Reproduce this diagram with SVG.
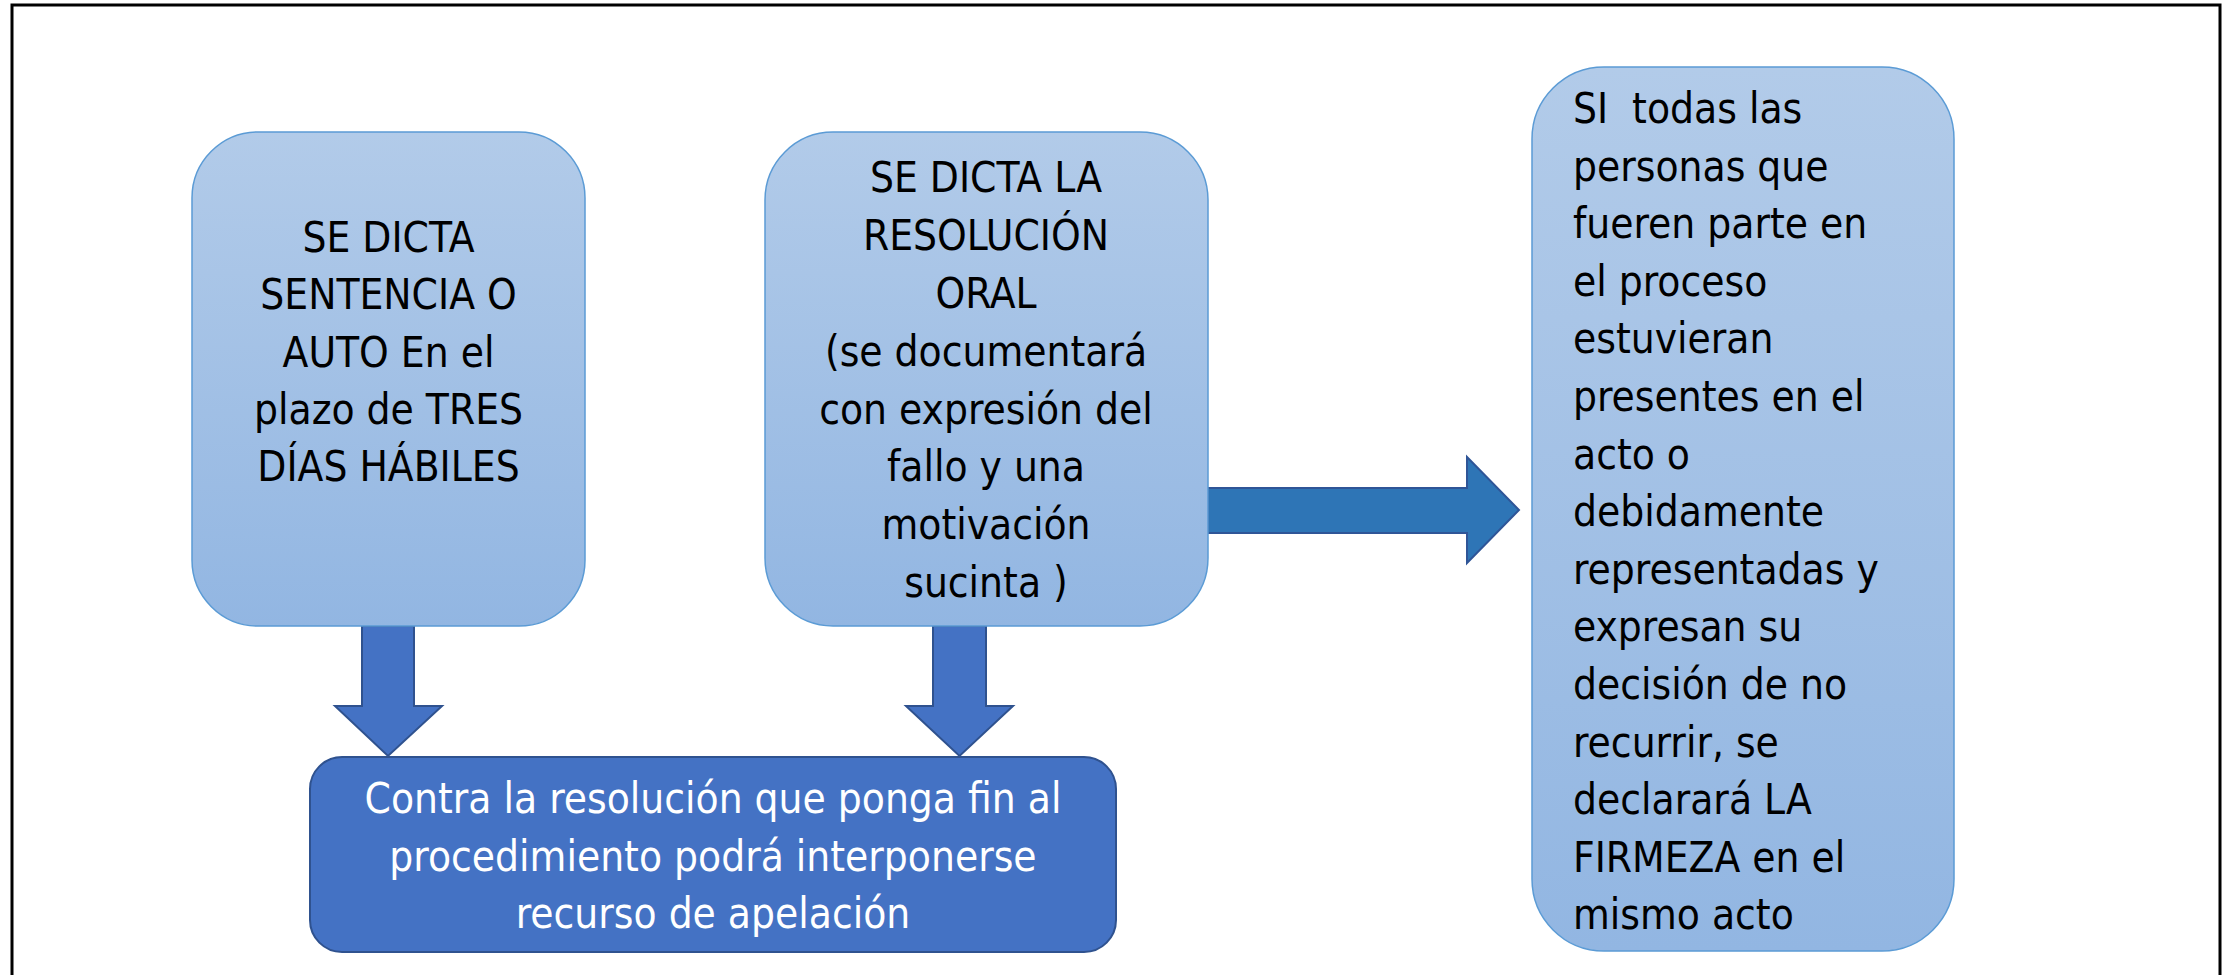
<svg xmlns="http://www.w3.org/2000/svg" width="2233" height="975" viewBox="0 0 2233 975">
  <defs>
    <linearGradient id="lightGrad" x1="0" y1="0" x2="0" y2="1">
      <stop offset="0" stop-color="#B2CBE9"/>
      <stop offset="1" stop-color="#92B6E2"/>
    </linearGradient>
    <style>
      .light { fill: url(#lightGrad); stroke: #5B9BD5; stroke-width: 1.5; }
      .dark { fill: #4472C4; stroke: #2F528F; stroke-width: 2; }
      .arrowDown { fill: #4472C4; stroke: #2F528F; stroke-width: 2; stroke-linejoin: miter; }
      .arrowRight { fill: #2E75B6; stroke: #2F5597; stroke-width: 2; stroke-linejoin: miter; }
      .t { font-family: "DejaVu Sans Condensed", "Liberation Sans Narrow", "Liberation Sans", sans-serif; font-size: 42px; fill: #000000; }
      .c { text-anchor: middle; }
      .w { fill: #FFFFFF; }
    </style>
  </defs>
  <rect x="0" y="0" width="2233" height="975" fill="#FFFFFF"/>
  <rect id="frame" x="12" y="5" width="2208" height="1000" fill="none" stroke="#000000" stroke-width="3"/>

  <g id="connectors">
    <polygon class="arrowDown" points="362,626 414,626 414,706 442,706 388,756 335,706 362,706"/>
    <polygon class="arrowDown" points="933,626 986,626 986,706 1013,706 959.5,756 906,706 933,706"/>
    <polygon class="arrowRight" points="1208,488 1467,488 1467,457 1519,510 1467,563 1467,533 1208,533"/>
  </g>

  <g id="node-sentencia">
    <rect class="light" x="192" y="132" width="393" height="494" rx="66" ry="66"/>
    <text class="t c" x="388.5" y="252">SE DICTA</text>
    <text class="t c" x="388.5" y="309.3">SENTENCIA O</text>
    <text class="t c" x="388.5" y="366.6">AUTO En el</text>
    <text class="t c" x="388.5" y="424">plazo de TRES</text>
    <text class="t c" x="388.5" y="481.2">DÍAS HÁBILES</text>
  </g>

  <g id="node-resolucion-oral">
    <rect class="light" x="765" y="132" width="443" height="494" rx="68" ry="68"/>
    <text class="t c" x="986" y="192">SE DICTA LA</text>
    <text class="t c" x="986" y="250">RESOLUCIÓN</text>
    <text class="t c" x="986" y="308">ORAL</text>
    <text class="t c" x="986" y="366">(se documentará</text>
    <text class="t c" x="986" y="424">con expresión del</text>
    <text class="t c" x="986" y="481">fallo y una</text>
    <text class="t c" x="986" y="538.5">motivación</text>
    <text class="t c" x="986" y="596.5">sucinta )</text>
  </g>

  <g id="node-firmeza">
    <rect class="light" x="1532" y="67" width="422" height="884" rx="72" ry="72"/>
    <text class="t" x="1573" y="123" xml:space="preserve">SI  todas las</text>
    <text class="t" x="1573" y="180.6">personas que</text>
    <text class="t" x="1573" y="238.2">fueren parte en</text>
    <text class="t" x="1573" y="295.8">el proceso</text>
    <text class="t" x="1573" y="353.4">estuvieran</text>
    <text class="t" x="1573" y="411">presentes en el</text>
    <text class="t" x="1573" y="468.6">acto o</text>
    <text class="t" x="1573" y="526.2">debidamente</text>
    <text class="t" x="1573" y="583.8">representadas y</text>
    <text class="t" x="1573" y="641.4">expresan su</text>
    <text class="t" x="1573" y="699">decisión de no</text>
    <text class="t" x="1573" y="756.6">recurrir, se</text>
    <text class="t" x="1573" y="814.2">declarará LA</text>
    <text class="t" x="1573" y="871.8">FIRMEZA en el</text>
    <text class="t" x="1573" y="929.4">mismo acto</text>
  </g>

  <g id="node-apelacion">
    <rect class="dark" x="310" y="757" width="806" height="195" rx="32" ry="32"/>
    <text class="t c w" x="713" y="813">Contra la resolución que ponga fin al</text>
    <text class="t c w" x="713" y="870.5">procedimiento podrá interponerse</text>
    <text class="t c w" x="713" y="928">recurso de apelación</text>
  </g>
</svg>
